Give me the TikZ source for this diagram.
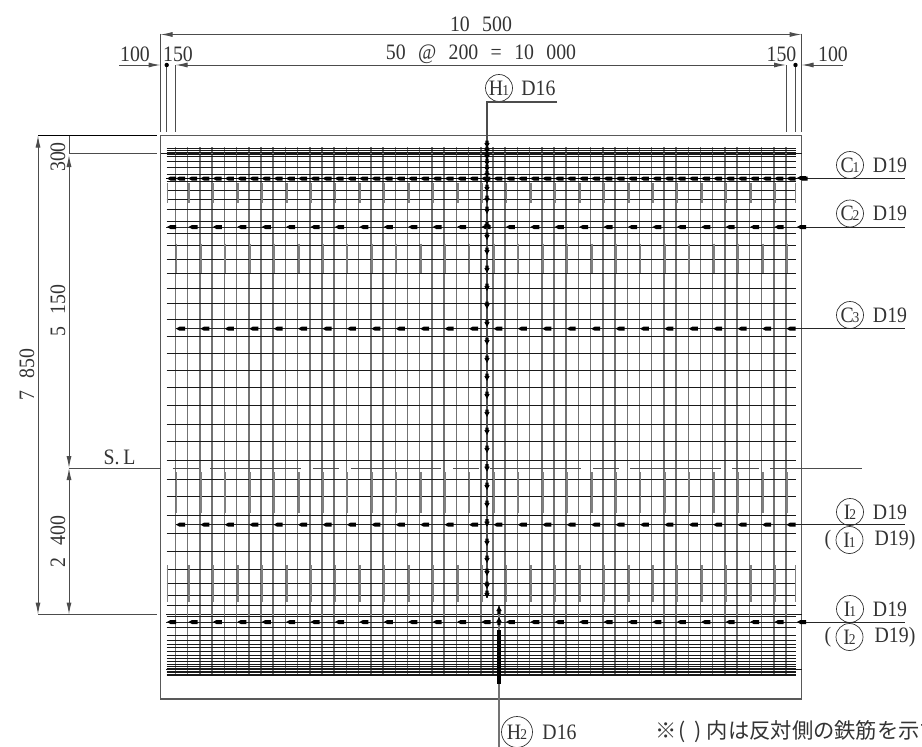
\documentclass[tikz,border=0pt]{standalone}
\usepackage{fontspec}
\setmainfont[WordSpace=2.5,FakeStretch=0.9]{Liberation Serif}
\newfontfamily\jpfont{Noto Sans CJK JP}
\usetikzlibrary{arrows.meta}
\newcommand{\ringtext}[2]{#1\kern-1pt{\fontsize{15}{15}\selectfont #2}}
\newcommand{\ribleft}[2]{\fill[barfill] (#1,#2) -- ++(3.5,-2) -- ++(5.5,0) -- ++(0,4) -- ++(-5.5,0) -- cycle;}
\newcommand{\ribdown}[2]{\fill[barfill] (#1,#2) -- ++(-2.7,-5) -- ++(1,0) -- ++(0,-2.5) -- ++(3.4,0) -- ++(0,2.5) -- ++(1,0) -- cycle;}
\newcommand{\ribup}[2]{\fill[barfill] (#1,#2) -- ++(-2.7,5) -- ++(1,0) -- ++(0,3) -- ++(3.4,0) -- ++(0,-3) -- ++(1,0) -- cycle;}
\begin{document}
\begin{tikzpicture}[
 x=1pt,y=-1pt,
 >={Latex[length=12pt,width=5pt]},
 dimline/.style={draw=black!70,line width=1pt},
 outline/.style={draw=black!65,line width=1.1pt},
 hbar/.style={draw=black!90,line width=0.8pt},
 vbar/.style={draw=black!55,line width=1.5pt},
 lapbar/.style={draw=black!50,line width=1.9pt},
 leader/.style={draw=black!85,line width=0.9pt},
 barfill/.style={fill=black},
 dimtext/.style={font=\fontsize{22}{22}\selectfont,text=black!80,inner sep=0pt},
 ring/.style={draw=black!80,circle,line width=0.7pt,minimum size=27pt,inner sep=0pt,font=\fontsize{22}{22}\selectfont,text=black!80}
]
\useasboundingbox (0,0) rectangle (922,747);

% outer box
\draw[outline] (160.5,135.5) -- (801.5,135.5) -- (801.5,699) -- (160.5,699) -- cycle;
\draw[hbar] (160.5,153.5) -- (801.5,153.5);
\draw[hbar] (166,614.5) -- (801.5,614.5);
\draw[hbar] (166,669) -- (801.5,669);

% main bars
\foreach \k in {0,...,50}
  \draw[vbar] ({175.5+12.21*\k},147) -- ({175.5+12.21*\k},676);
\foreach \y in {148,150,152,154,156,161.7,167.3,174,181.5,190,199.3,209.7,221.3,233.3,245.7,259.3,273.3,288.3,303.3,319.3,336,353.3,370.3,387.7,405.7,424,441.7,460.3,479,496.7,515,533.3,551.3,569.3,583.3,595.7,605.7,616,627.3,635.3,640,644,647.3,651.3,655,658.3,661.7,664,666,668,669.5,671,672.5,674,675}
  \draw[hbar] (166.5,\y) -- (795.5,\y);

% lap bars
\foreach \k in {0,...,24} {
  \draw[lapbar] ({189+24.42*\k},183) -- ({189+24.42*\k},203);
  \draw[lapbar] ({189+24.42*\k},565) -- ({189+24.42*\k},602);
}
\foreach \x in {167.5,795.5} {
  \draw[lapbar] (\x,183) -- (\x,203);
  \draw[lapbar] (\x,565) -- (\x,602);
}
\foreach \k in {0,...,25} {
  \draw[lapbar] ({176.5+24.42*\k},243.5) -- ({176.5+24.42*\k},272.5);
  \draw[lapbar] ({176.5+24.42*\k},472) -- ({176.5+24.42*\k},512.5);
}

% S.L line
\foreach \a/\b in {172.7/199.3,210/301,312.5/339,350.5/441,452.8/479,490.4/581,592.8/619,630.4/720.5,732.3/758.5}
  \draw[dimline] (\a,468) -- (\b,468);
\coordinate (sl-left) at (69,468);
\coordinate (sl-box) at (160.5,468);
\coordinate (sl-start) at (770,468);
\coordinate (sl-right) at (862,468);
\draw[dimline] (sl-left) -- (sl-box);
\draw[dimline] (sl-start) -- (sl-right);
\node (sl-text) [dimtext] at (119.5,457) {S.\,L};

% cross bars with leaders
\node (c1-mark) [ring] at (850,165) {\ringtext{C}{1}};
\node (c1-text) [dimtext] at (890,165) {D19};
\node (c2-mark) [ring] at (850,213.5) {\ringtext{C}{2}};
\node (c2-text) [dimtext] at (890,213.5) {D19};
\node (c3-mark) [ring] at (850,315) {\ringtext{C}{3}};
\node (c3-text) [dimtext] at (890,315) {D19};
\node (i2-mark) [ring] at (850,512) {\ringtext{I}{2}};
\node (i2-text) [dimtext] at (890,512) {D19};
\node (i1-mark) [ring] at (850,609) {\ringtext{I}{1}};
\node (i1-text) [dimtext] at (890,609) {D19};
\node (i1b-open) [dimtext] at (828,540) {(};
\node (i1b-mark) [ring] at (849.5,540) {\ringtext{I}{1}};
\node (i1b-text) [dimtext] at (895,540) {D19)};
\node (i2b-open) [dimtext] at (828,637) {(};
\node (i2b-mark) [ring] at (849.5,637) {\ringtext{I}{2}};
\node (i2b-text) [dimtext] at (895,637) {D19)};

\foreach \name/\y/\x in {c1/178/166,c2/227/166,c3/328.5/176,i2/524.7/176,i1/622/166} {
  \coordinate (\name-a) at (\x,\y);
  \coordinate (\name-b) at (905,\y);
  \draw[leader] (\name-a) -- (\name-b);
}
\draw[draw=black,line width=1.3pt] (166,178.5) -- (797,178.5);
\ribleft{167}{178.5}
\ribleft{797}{178}
\ribleft{797}{227}
\ribleft{797}{622}
\foreach \k in {0,...,51} {
  \ribleft{{176+12.21*\k}}{178.5}
}
\foreach \y in {227,622} {
  \ribleft{167}{\y}
  \foreach \k in {0,...,24} {
    \ribleft{{188.5+24.42*\k}}{\y}
  }
}
\foreach \y in {328.7,524.7} {
  \foreach \k in {0,...,25} {
    \ribleft{{176+24.42*\k}}{\y}
  }
}

% vertical mark at centre
\node (h1-mark) [ring] at (499,88) {\ringtext{H}{1}};
\node (h1-text) [dimtext] at (538.5,88) {D16};
\coordinate (h1-corner) at (487,102);
\coordinate (h1-end) at (557,102);
\coordinate (h1-foot) at (487,598);
\draw[dimline,line width=1.3pt] (h1-end) -- (h1-corner) -- (h1-foot);
\foreach \y in {148,154,160,166,172,178,184,192,203,214,229,240,255,273,291,309,327,345,363,381,399,417,435,453,471.7,490,508,526.7,546,563,576,589,598} {
  \ribdown{487}{\y}
}

\node (h2-mark) [ring,minimum size=31pt] at (517,732) {\ringtext{H}{2}};
\node (h2-text) [dimtext] at (559.5,732) {D16};
\coordinate (h2-top) at (499,606);
\coordinate (h2-foot) at (499,747);
\draw[vbar] (h2-top) -- (h2-foot);
\ribup{499}{606}
\ribup{499}{617}
\draw[draw=black,line width=3.8pt] (499,630) -- (499,684);

% top dimensions
\coordinate (dim-a) at (160.5,34.5);
\coordinate (dim-b) at (801.5,34.5);
\draw[dimline,<->] (dim-a) -- (dim-b);
\node (total-text) [dimtext] at (481,24) {10 500};
\coordinate (pitch-a) at (175.5,65);
\coordinate (pitch-b) at (786,65);
\draw[dimline,<->] (pitch-a) -- (pitch-b);
\node (pitch-text) [dimtext] at (481,54) {50 @ 200 = 10 000};
\draw[dimline] (160.5,33.5) -- (160.5,132);
\draw[dimline] (166.7,65) -- (166.7,132);
\draw[dimline] (175.5,65) -- (175.5,132);
\draw[dimline] (786,65) -- (786,132);
\draw[dimline] (795.5,65) -- (795.5,132);
\draw[dimline] (801.5,33.5) -- (801.5,132);
\coordinate (cover-l) at (119,65);
\coordinate (cover-r) at (843,65);
\draw[dimline,->] (cover-l) -- (160.5,65);
\draw[dimline,->] (cover-r) -- (801.5,65);
\fill[barfill] (166.7,65) circle (2.2);
\fill[barfill] (795.5,65) circle (2.2);
\node (cover-l-text) [dimtext] at (135,54) {100};
\node (edge-l-text) [dimtext] at (178,54.5) {150};
\node (edge-r-text) [dimtext] at (781.5,54.5) {150};
\node (cover-r-text) [dimtext] at (833,54) {100};

% left dimensions
\coordinate (top-a) at (38,135.5);
\coordinate (top-b) at (157,135.5);
\coordinate (sec-a) at (69,153.5);
\coordinate (sec-b) at (157,153.5);
\coordinate (low-a) at (38,614.5);
\coordinate (low-b) at (157,614.5);
\draw[draw=black,line width=1pt] (top-a) -- (top-b);
\draw[dimline] (sec-a) -- (sec-b);
\draw[dimline] (low-a) -- (low-b);
\draw[dimline,<->] (38,135.5) -- (38,614.5);
\draw[dimline,line width=0.4pt] (69,135.5) -- (69,153.5);
\draw[dimline,<->] (69,155) -- (69,468);
\draw[dimline,<->] (69,468) -- (69,614.5);
\node (full-text) [dimtext,rotate=90] at (27,374.5) {7 850};
\node (top-text) [dimtext,rotate=90] at (58,157) {300};
\node (upper-text) [dimtext,rotate=90] at (58,311) {5 150};
\node (lower-text) [dimtext,rotate=90] at (58,542) {2 400};

% note
\node (note-text) [anchor=west,inner sep=0pt,font=\jpfont\fontsize{21.3}{21.3}\selectfont,text=black!80] at (655,732) {※\kern2pt(\kern9pt)\kern5pt内は反対側の鉄筋を示す};
\end{tikzpicture}
\end{document}
